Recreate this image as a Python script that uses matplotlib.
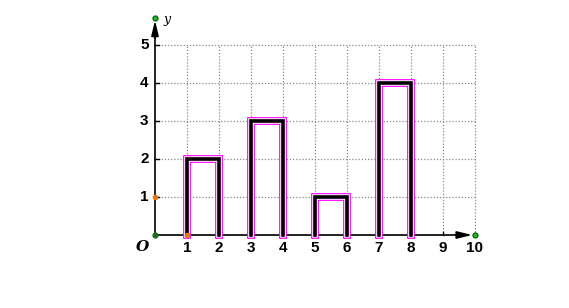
import numpy as np
import matplotlib.pyplot as plt

# bar data
bar_left = [1, 3, 5, 7]
bar_width = 1
bar_height = [2, 3, 1, 4]
x_ticks = [1, 2, 3, 4, 5, 6, 7, 8, 9, 10]
y_ticks = [1, 2, 3, 4, 5]

plt.rcParams['font.family'] = ['Liberation Sans', 'DejaVu Sans']

fig = plt.figure(figsize=(5.69, 3.08), dpi=100)
ax = fig.add_axes([0, 0, 1, 1])
ax.set_xlim(-155 / 32, (569 - 155) / 32)
ax.set_ylim(-(308 - 235) / 38, 235 / 38)
ax.axis('off')

# grid
for x in x_ticks:
    ax.plot([x, x], [0, 5], color='#888888', lw=0.9, ls=(0, (1, 1.5)), zorder=1)
for y in y_ticks:
    ax.plot([0, 10], [y, y], color='#888888', lw=0.9, ls=(0, (1, 1.5)), zorder=1)

# axes with arrows
ax.plot([0, 9.7], [0, 0], color='black', lw=1.2, zorder=3)
ax.plot([0, 0], [0, 5.5], color='black', lw=1.2, zorder=3)
ax.annotate('', xy=(10, 0), xytext=(9.3, 0),
            arrowprops=dict(arrowstyle='-|>,head_length=0.9,head_width=0.22', color='black', lw=1.2), zorder=4)
ax.annotate('', xy=(0, 5.72), xytext=(0, 5.1),
            arrowprops=dict(arrowstyle='-|>,head_length=0.9,head_width=0.22', color='black', lw=1.2), zorder=4)

# ticks
for x in x_ticks[:-1]:
    ax.plot([x, x], [0, 0.08], color='black', lw=1, zorder=3)
for x in x_ticks:
    ax.text(x, -0.17, str(x), ha='center', va='top', fontsize=11, fontweight='bold')
for y in y_ticks:
    ax.plot([0, 0.12], [y, y], color='black', lw=1, zorder=3)
    ax.text(-0.2, y, str(y), ha='right', va='center', fontsize=11, fontweight='bold')

ax.text(-0.17, -0.12, 'O', ha='right', va='top', fontsize=11, fontstyle='italic',
        fontweight='bold', family='DejaVu Serif')
ax.text(0.28, 5.68, 'y', ha='left', va='center', fontsize=9, fontstyle='italic', family='DejaVu Serif')

# bars: open rectangles
for left, h in zip(bar_left, bar_height):
    xs = [left, left, left + bar_width, left + bar_width]
    ys = [0, h, h, 0]
    ax.plot(xs, ys, color='magenta', lw=5.6, solid_joinstyle='miter', zorder=5)
    ax.plot(xs, ys, color='white', lw=4.0, solid_joinstyle='miter', zorder=6)
    ax.plot(xs, ys, color='black', lw=2.6, solid_joinstyle='miter', zorder=7)

# points
ax.plot([0], [0], 'o', color='#1a6e1a', ms=3.5, zorder=8)
ax.plot([1, 0], [0, 1], 'o', color='#e07a10', ms=3, zorder=8)
ax.plot([10, 0], [0, 5.72], 'o', color='#22bb22', mec='#116611', ms=3.5, zorder=8)

fig.savefig('out.png', dpi=100)
